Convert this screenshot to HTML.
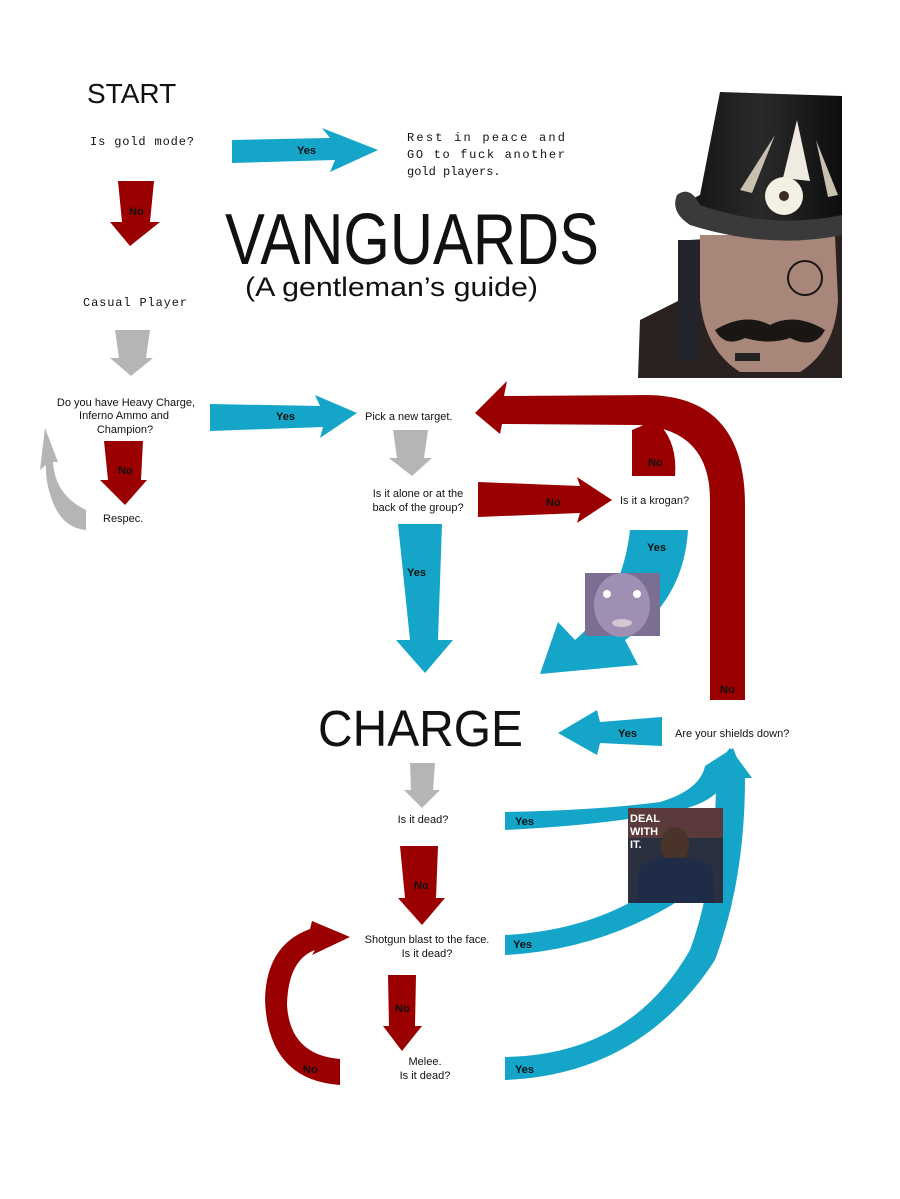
<!DOCTYPE html>
<html><head><meta charset="utf-8"><style>
body{margin:0;background:#fff;}
svg{display:block}
.m{font-family:"Liberation Mono",monospace;font-size:12px;fill:#111}
.s{font-family:"Liberation Sans",sans-serif;font-size:11px;fill:#111}
.l{font-family:"Liberation Sans",sans-serif;font-size:11px;font-weight:bold;fill:#111}
</style></head><body>
<svg width="900" height="1199" viewBox="0 0 900 1199" xmlns="http://www.w3.org/2000/svg">
<rect width="900" height="1199" fill="#fff"/>
<defs>
<linearGradient id="hat" x1="0" y1="0" x2="1" y2="0"><stop offset="0" stop-color="#111"/><stop offset=".5" stop-color="#2a2a2a"/><stop offset="1" stop-color="#0d0d0d"/></linearGradient>
</defs>
<text x="87" y="103" font-family="Liberation Sans,sans-serif" font-size="28" fill="#111">START</text>
<text class="m" x="90" y="145" textLength="104">Is gold mode?</text>
<polygon points="232,140 330,138 322,128 378,150 330,172 335,160 232,163" fill="#14a5c9"/>
<text class="l" x="297" y="154">Yes</text>
<text class="m" x="407" y="141" textLength="158">Rest in peace and</text>
<text class="m" x="407" y="158" textLength="158">GO to fuck another</text>
<text class="m" x="407" y="175">gold players.</text>
<polygon points="118,181 154,181 150,222 160,222 130,246 110,222 122,222" fill="#9b0000"/>
<text class="l" x="129" y="215">No</text>
<text x="225" y="264" font-family="Liberation Sans,sans-serif" font-size="72" fill="#111" textLength="374" lengthAdjust="spacingAndGlyphs">VANGUARDS</text>
<text x="245" y="296" font-family="Liberation Sans,sans-serif" font-size="27" fill="#111" textLength="293" lengthAdjust="spacingAndGlyphs">(A gentleman’s guide)</text>
<!-- portrait -->
<g>
<path d="M690,240 L842,230 L842,378 L638,378 L640,320 L680,300 Z" fill="#2a2220"/>
<path d="M700,235 L835,235 L838,300 Q835,350 800,372 L740,372 Q705,350 700,300 Z" fill="#a8877a"/>
<rect x="678" y="240" width="22" height="120" fill="#23232b"/>
<path d="M715,330 Q745,312 770,325 Q795,312 825,330 Q815,350 790,338 Q770,345 745,338 Q725,348 715,330 Z" fill="#1a1614"/>
<circle cx="805" cy="278" r="17" fill="none" stroke="#1a1414" stroke-width="2"/>
<rect x="735" y="353" width="25" height="8" fill="#222"/>
<path d="M720,92 L842,96 L842,215 Q815,240 760,238 Q705,235 680,205 L700,195 Z" fill="url(#hat)"/>
<path d="M677,195 Q690,185 700,205 Q770,230 842,215 L842,235 Q770,250 690,225 Q670,212 677,195 Z" fill="#3a3a3a"/>
<polygon points="797,120 783,178 810,181" fill="#f0ebe0"/>
<polygon points="775,135 740,190 752,193" fill="#c9c0b0"/>
<polygon points="816,140 838,195 828,197" fill="#c9c0b0"/>
<circle cx="784" cy="196" r="19" fill="#f4f0e4"/>
<circle cx="784" cy="196" r="5" fill="#3a2a20"/>
</g>
<text class="m" x="83" y="306" textLength="104">Casual Player</text>
<polygon points="115,330 150,330 146,358 153,358 131,376 110,358 119,358" fill="#b5b5b5"/>
<text class="s" x="126" y="406" text-anchor="middle">Do you have Heavy Charge,</text>
<text class="s" x="124" y="419" text-anchor="middle">Inferno Ammo and</text>
<text class="s" x="125" y="433" text-anchor="middle">Champion?</text>
<polygon points="210,404 320,406 315,395 357,413 320,438 323,427 210,431" fill="#14a5c9"/>
<text class="l" x="276" y="420">Yes</text>
<text class="s" x="365" y="420">Pick a new target.</text>
<polygon points="393,430 428,430 424,458 432,458 412,476 389,458 397,458" fill="#b5b5b5"/>
<polygon points="104,441 143,441 141,480 147,480 125,505 100,480 108,480" fill="#9b0000"/>
<text class="l" x="118" y="474">No</text>
<path d="M86,530 Q62,528 52,500 Q45,480 46,465 L40,470 L45,428 L58,462 L53,462 Q55,495 86,510 Z" fill="#b5b5b5"/>
<text class="s" x="103" y="522">Respec.</text>
<text class="s" x="418" y="497" text-anchor="middle">Is it alone or at the</text>
<text class="s" x="418" y="511" text-anchor="middle">back of the group?</text>
<polygon points="478,482 580,486 577,477 612,500 577,523 580,513 478,517" fill="#9b0000"/>
<text class="l" x="546" y="506">No</text>
<text class="s" x="620" y="504">Is it a krogan?</text>
<polygon points="398,524 442,524 438,640 453,640 425,673 396,640 410,640" fill="#14a5c9"/>
<text class="l" x="407" y="576">Yes</text>
<path d="M630,530 L688,530 Q684,600 625,640 L638,665 L540,674 L558,622 L575,640 Q622,600 630,530 Z" fill="#14a5c9"/>
<text class="l" x="647" y="551">Yes</text>
<rect x="585" y="573" width="75" height="63" fill="#7a6f93"/>
<ellipse cx="622" cy="605" rx="28" ry="32" fill="#9e8fb3"/>
<circle cx="607" cy="594" r="4" fill="#fff"/><circle cx="637" cy="594" r="4" fill="#fff"/>
<ellipse cx="622" cy="623" rx="10" ry="4" fill="#d5c6cf"/>
<path d="M745,700 L745,505 Q745,395 645,395 L504,396 L507,381 L475,413 L500,434 L502,424 L640,425 Q710,430 710,500 L710,700 Z" fill="#9b0000"/>
<path d="M632,476 L675,476 Q678,440 655,420 L632,430 Z" fill="#9b0000"/>
<text class="l" x="648" y="466">No</text>
<text class="l" x="720" y="693">No</text>
<text x="318" y="746" font-family="Liberation Sans,sans-serif" font-size="51" fill="#111" textLength="205" lengthAdjust="spacingAndGlyphs">CHARGE</text>
<polygon points="662,717 662,746 600,743 597,755 558,733 597,710 600,722" fill="#14a5c9"/>
<text class="l" x="618" y="737">Yes</text>
<text class="s" x="675" y="737">Are your shields down?</text>
<polygon points="410,763 435,763 433,790 440,790 422,808 404,790 411,790" fill="#b5b5b5"/>
<text class="s" x="423" y="823" text-anchor="middle">Is it dead?</text>
<path d="M505,812 L505,830 Q610,825 680,810 Q720,800 725,778 L745,778 L733,748 L705,766 Q700,790 660,802 Q600,810 505,812 Z" fill="#14a5c9"/>
<path d="M505,935 L505,955 Q600,950 680,900 L665,880 Q600,930 505,935 Z" fill="#14a5c9"/>
<path d="M505,1057 L505,1080 Q640,1075 715,960 Q745,880 745,778 L752,778 L730,748 L705,778 L716,778 Q716,880 690,950 Q630,1055 505,1057 Z" fill="#14a5c9"/>
<text class="l" x="515" y="825">Yes</text>
<text class="l" x="513" y="948">Yes</text>
<text class="l" x="515" y="1073">Yes</text>
<rect x="628" y="808" width="95" height="95" fill="#2b3040"/>
<rect x="628" y="808" width="95" height="30" fill="#5a3a3a"/>
<ellipse cx="675" cy="845" rx="14" ry="18" fill="#4a3328"/>
<path d="M640,865 Q675,850 712,865 L715,903 L636,903 Z" fill="#1f2c48"/>
<text x="630" y="822" font-family="Liberation Sans,sans-serif" font-weight="bold" font-size="11" fill="#fff">DEAL</text>
<text x="630" y="835" font-family="Liberation Sans,sans-serif" font-weight="bold" font-size="11" fill="#fff">WITH</text>
<text x="630" y="848" font-family="Liberation Sans,sans-serif" font-weight="bold" font-size="11" fill="#fff">IT.</text>
<polygon points="400,846 438,846 436,898 445,898 422,925 398,898 405,898" fill="#9b0000"/>
<text class="l" x="414" y="889">No</text>
<text class="s" x="427" y="943" text-anchor="middle">Shotgun blast to the face.</text>
<text class="s" x="427" y="957" text-anchor="middle">Is it dead?</text>
<polygon points="388,975 416,975 415,1026 422,1026 402,1051 383,1026 389,1026" fill="#9b0000"/>
<text class="l" x="395" y="1012">No</text>
<text class="s" x="425" y="1065" text-anchor="middle">Melee.</text>
<text class="s" x="425" y="1079" text-anchor="middle">Is it dead?</text>
<path d="M340,1085 Q268,1080 265,1000 Q266,945 310,929 L312,921 L350,937 L312,955 L315,950 Q288,960 287,1005 Q290,1055 340,1059 Z" fill="#9b0000"/>
<text class="l" x="303" y="1073">No</text>
</svg>
</body></html>
